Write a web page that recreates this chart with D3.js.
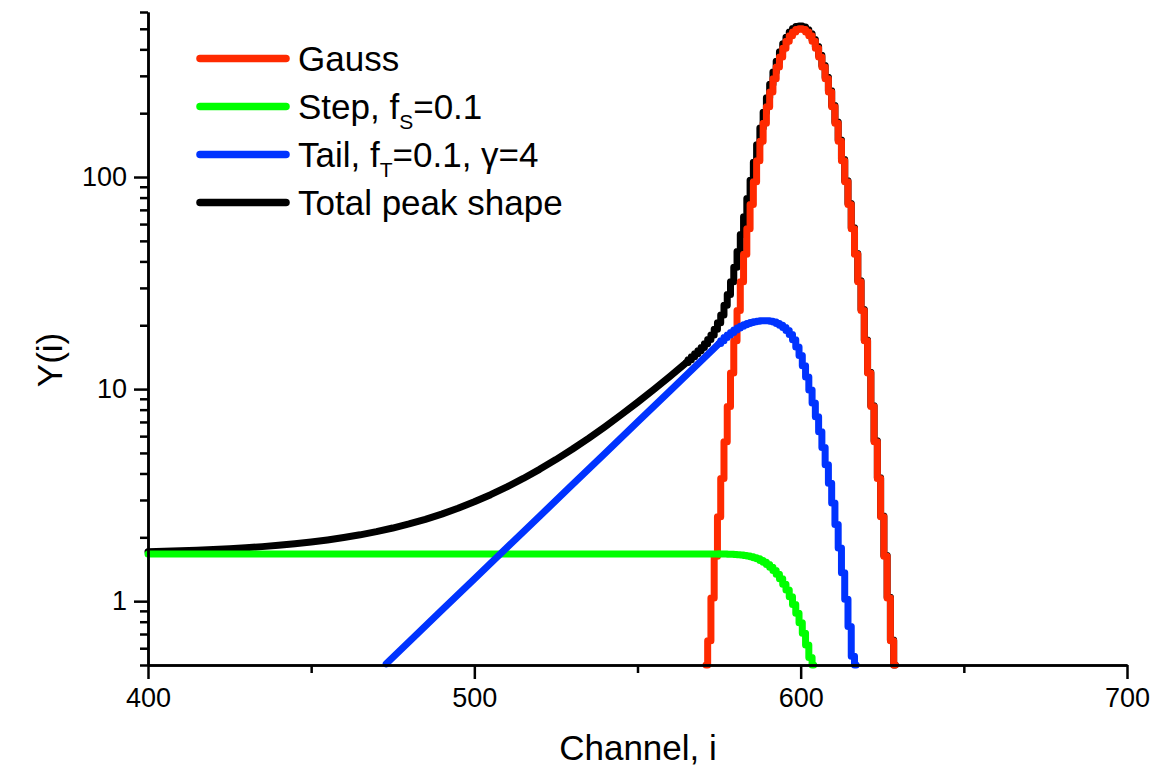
<!DOCTYPE html>
<html>
<head>
<meta charset="utf-8">
<script src="https://cdn.jsdelivr.net/npm/d3@7"></script>
<style>
  html, body { margin: 0; padding: 0; background: #fff; }
  svg { display: block; font-family: "Liberation Sans", Arial, sans-serif; }
</style>
</head>
<body>
<svg id="chart" width="1154" height="767"></svg>
<script>
// ---- Peak-shape components, counts per channel ----

// Gaussian part, one value per channel starting at gaussStart
const gaussStart = 571;
const gaussValues = [
  0.402, 0.651, 1.036, 1.63, 2.50, 3.79, 5.65, 8.28, 11.92, 16.88,
  23.5, 32.1, 43.2, 57.1, 74.3, 95.0, 119.4, 147.6, 179.3, 214.3,
  251.7, 290.7, 330.1, 368.5, 404.5, 436.5, 463.3, 483.3, 495.8, 500,
  495.8, 483.3, 463.3, 436.5, 404.5, 368.5, 330.1, 290.7, 251.7, 214.3,
  179.3, 147.6, 119.4, 95.0, 74.3, 57.1, 43.2, 32.1, 23.5, 16.88,
  11.92, 8.28, 5.65, 3.79, 2.50, 1.63, 1.036, 0.651, 0.402
];

// Step part: flat plateau, then per-channel fall-off
const stepPlateauChannels = [400, 425, 450, 475, 500, 525, 550, 575];
const stepPlateauValues   = [1.67, 1.67, 1.67, 1.67, 1.67, 1.67, 1.669, 1.668];
const stepStart = 575;
const stepValues = [
  1.668, 1.668, 1.667, 1.665, 1.663, 1.660, 1.657, 1.651, 1.644, 1.634,
  1.621, 1.604, 1.583, 1.557, 1.526, 1.489, 1.446, 1.395, 1.339, 1.274,
  1.203, 1.128, 1.048, 0.964, 0.878, 0.792, 0.706, 0.622, 0.542, 0.466
];

// Tail part: exponential rise, then per-channel cut-off
const tailRiseChannels = [473, 480, 490, 500, 510, 520, 530, 540, 550, 560, 570, 575];
const tailRiseValues   = [0.507, 0.643, 0.905, 1.272, 1.789, 2.515, 3.536, 4.972, 6.99, 9.83, 13.82, 16.39];
const tailStart = 575;
const tailValues = [
  16.4, 16.9, 17.5, 18.0, 18.5, 19.0, 19.4, 19.8, 20.1, 20.4,
  20.6, 20.8, 20.9, 21.0, 21.0, 21.0, 20.9, 20.7, 20.4, 20.0,
  19.5, 18.9, 18.1, 17.1, 15.8, 14.4, 12.9, 11.4, 9.9, 8.6,
  7.4, 6.3, 5.3, 4.4, 3.6, 2.9, 2.3, 1.78, 1.36, 1.02,
  0.76, 0.55, 0.40
];

// Total peak shape: smooth low-side shoulder, then per-channel peak
const totalShoulderChannels = [
  400, 405, 410, 415, 420, 425, 430, 435, 440, 445,
  450, 455, 460, 465, 470, 475, 480, 485, 490, 495,
  500, 505, 510, 515, 520, 525, 530, 535, 540, 545,
  550, 555, 560, 565
];
const totalShoulderValues = [
  1.711, 1.719, 1.728, 1.739, 1.752, 1.768, 1.786, 1.808, 1.834, 1.864,
  1.900, 1.944, 1.995, 2.055, 2.127, 2.212, 2.312, 2.432, 2.574, 2.742,
  2.941, 3.177, 3.458, 3.790, 4.184, 4.651, 5.205, 5.862, 6.641, 7.564,
  8.659, 9.959, 11.50, 13.34
];
const totalStart = 565;
const totalValues = [
  13.34, 13.76, 14.20, 14.66, 15.17, 15.71, 16.37, 17.12, 18.01, 19.14,
  20.57, 22.36, 24.82, 27.95, 32.08, 37.54, 44.56, 53.55, 64.94, 79.13,
  96.52, 117.4, 141.9, 170.2, 201.8, 236.8, 274.0, 312.8, 351.8, 389.8,
  425.2, 456.5, 482.4, 501.4, 512.5, 515.2, 509.4, 495.3, 473.7, 445.6,
  412.3, 375.1, 335.7, 295.3, 255.5, 217.3, 181.7, 149.5, 120.8, 96.07,
  75.10, 57.68, 43.62, 32.40, 23.71, 17.03, 12.02, 8.35, 5.70, 3.82,
  2.52, 1.64, 1.044, 0.656, 0.405
];

// Axis ticks and labels
const xMajorTicks = [400, 500, 600, 700];
const xMinorTicks = [450, 550, 650];
const yMajorTicks = [1, 10, 100];
const yMinorTicks = [0.5, 0.6, 0.7, 0.8, 0.9, 2, 3, 4, 5, 6, 7, 8, 9,
                     20, 30, 40, 50, 60, 70, 80, 90, 200, 300, 400, 500, 600];
const xDomain = [400, 700];
const yDomain = [0.5, 600];
const xTitle = "Channel, i";
const yTitle = "Y(i)";

const colors = { gauss: "#ff2a00", step: "#00ff00", tail: "#0033ff", total: "#000000" };

// ---- Layout ----
const plot = { left: 148, right: 1127, top: 12, bottom: 665 };
const svg = d3.select("#chart");

const x = d3.scaleLinear().domain(xDomain).range([plot.left, plot.right]);
const y = d3.scaleLog().domain(yDomain).range([plot.bottom, plot.top]);

const toPoints = (start, values) => values.map((v, i) => [start + i, v]);
const pairs = (chs, vals) => chs.map((c, i) => [c, vals[i]]);

const lineLinear = d3.line()
  .x(d => x(d[0]))
  .y(d => y(Math.max(d[1], yDomain[0])))
  .curve(d3.curveLinear);
const lineStep = d3.line()
  .x(d => x(d[0]))
  .y(d => y(Math.max(d[1], yDomain[0])))
  .curve(d3.curveStep);

const curves = svg.append("g")
  .attr("fill", "none")
  .attr("stroke-width", 7)
  .attr("stroke-linecap", "round")
  .attr("stroke-linejoin", "round");

function drawPath(points, gen, color) {
  curves.append("path").datum(points).attr("d", gen).attr("stroke", color);
}

// Total peak shape
drawPath(pairs(totalShoulderChannels, totalShoulderValues), lineLinear, colors.total);
drawPath(toPoints(totalStart, totalValues), lineStep, colors.total);
// Gauss
drawPath(toPoints(gaussStart, gaussValues), lineStep, colors.gauss);
// Step
drawPath(pairs(stepPlateauChannels, stepPlateauValues), lineLinear, colors.step);
drawPath(toPoints(stepStart, stepValues), lineStep, colors.step);
// Tail
drawPath(pairs(tailRiseChannels, tailRiseValues), lineLinear, colors.tail);
drawPath(toPoints(tailStart, tailValues), lineStep, colors.tail);

// ---- Axes ----
function styleAxis(g, fontSize) {
  g.select(".domain").attr("stroke", "#000").attr("stroke-width", 2.5);
  g.selectAll(".tick line").attr("stroke", "#000").attr("stroke-width", 2.5);
  g.selectAll(".tick text")
    .attr("fill", "#000")
    .attr("font-size", fontSize)
    .attr("font-family", "'Liberation Sans', Arial, sans-serif");
}

const xAxisG = svg.append("g").attr("transform", `translate(0,${plot.bottom})`);
xAxisG.append("g")
  .call(d3.axisBottom(x).tickValues(xMinorTicks).tickSize(8).tickSizeOuter(0).tickFormat(""))
  .call(g => styleAxis(g, 27));
xAxisG.append("g")
  .call(d3.axisBottom(x).tickValues(xMajorTicks).tickSize(14).tickSizeOuter(0)
    .tickPadding(9).tickFormat(d3.format("d")))
  .call(g => styleAxis(g, 27));

const yAxisG = svg.append("g").attr("transform", `translate(${plot.left},0)`);
yAxisG.append("g")
  .call(d3.axisLeft(y).tickValues(yMinorTicks).tickSize(8).tickSizeOuter(0).tickFormat(""))
  .call(g => styleAxis(g, 27));
yAxisG.append("g")
  .call(d3.axisLeft(y).tickValues(yMajorTicks).tickSize(14).tickSizeOuter(0)
    .tickPadding(7).tickFormat(d3.format("d")))
  .call(g => styleAxis(g, 27));

// Axis titles
svg.append("text")
  .attr("x", (plot.left + plot.right) / 2 + 0.5)
  .attr("y", 760)
  .attr("text-anchor", "middle")
  .attr("font-size", 35)
  .attr("fill", "#000")
  .text(xTitle);

svg.append("text")
  .attr("transform", `translate(62,360) rotate(-90)`)
  .attr("text-anchor", "middle")
  .attr("font-size", 35)
  .attr("fill", "#000")
  .text(yTitle);

// ---- Legend ----
const legendItems = [
  { key: "gauss", parts: [["Gauss", 0]] },
  { key: "step",  parts: [["Step, f", 0], ["S", 1], ["=0.1", 0]] },
  { key: "tail",  parts: [["Tail, f", 0], ["T", 1], ["=0.1, \u03B3=4", 0]] },
  { key: "total", parts: [["Total peak shape", 0]] }
];
const legend = svg.append("g").attr("transform", "translate(200,58.5)");
const rows = legend.selectAll("g").data(legendItems).join("g")
  .attr("transform", (d, i) => `translate(0,${i * 48})`);
rows.append("line")
  .attr("x1", 0).attr("x2", 86).attr("y1", 0).attr("y2", 0)
  .attr("stroke", d => colors[d.key])
  .attr("stroke-width", 7.5)
  .attr("stroke-linecap", "round");
const labels = rows.append("text")
  .attr("x", 98).attr("y", 12.5)
  .attr("font-size", 35)
  .attr("fill", "#000");
labels.each(function (d) {
  const t = d3.select(this);
  let shifted = false;
  d.parts.forEach(([str, sub]) => {
    const span = t.append("tspan").text(str);
    if (sub) { span.attr("font-size", 21).attr("dy", 10); shifted = true; }
    else if (shifted) { span.attr("dy", -10); shifted = false; }
  });
});
</script>
</body>
</html>
